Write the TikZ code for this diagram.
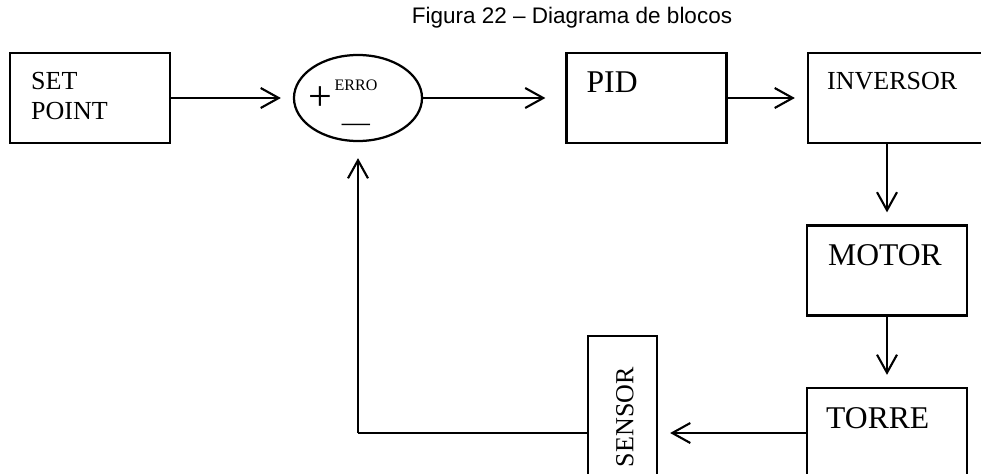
\documentclass[tikz,border=0pt]{standalone}
\usepackage{fontspec}
\setmainfont{Liberation Serif}
\newfontfamily\titlefont{Liberation Sans}
\usetikzlibrary{positioning,arrows.meta,shapes.geometric}

\tikzset{
  blk/.style={draw, line width=1.6pt, minimum width=4cm, minimum height=2.25cm, inner sep=0pt},
  txt/.style={inner sep=0pt, font=\fontsize{18.5}{21.3}\selectfont, align=left},
  bigtxt/.style={inner sep=0pt, font=\fontsize{22.5}{27}\selectfont},
  flow/.style={line width=1.5pt, -{Straight Barb[length=4.5mm,width=5mm,line width=1.5pt]}, shorten >=0.3cm}
}

\begin{document}
\begin{tikzpicture}[x=0.025cm, y=-0.025cm]
  \useasboundingbox (0,0) rectangle (981,474);

  % title
  \node[font=\titlefont\fontsize{16}{19}\selectfont, inner sep=0pt] (title) at (572,18) {Figura 22 – Diagrama de blocos};

  % blocks
  \node[blk] (sp) at (90,98) {};
  \node[draw, ellipse, line width=1.6pt, minimum width=3.2cm, minimum height=2.15cm, inner sep=0pt] (sum) at (358,98) {};
  \node[blk] (pid) at (646.5,98) {};
  \node[blk, minimum width=4.6cm] (inv) at (900,98) {};
  \node[blk] (mot) at (887,270.5) {};
  \node[blk] (tor) at (887,433) {};
  \node[blk, minimum width=1.725cm, minimum height=3.6cm] (sen) at (622.5,408) {};

  % texts
  \node[txt, below right=0.5cm and 0.55cm of sp.north west] (sptxt) {SET\\POINT};
  \node[bigtxt, below right=0.5cm and 0.525cm of pid.north west] (pidtxt) {PID};
  \node[txt, below right=0.5cm and 0.5cm of inv.north west] (invtxt) {INVERSOR};
  \node[bigtxt, below right=0.5cm and 0.55cm of mot.north west] (mottxt) {MOTOR};
  \node[bigtxt, below right=0.5cm and 0.5cm of tor.north west] (tortxt) {TORRE};
  \node[txt, rotate=90, anchor=east] (sentxt) at (625,367) {SENSOR};

  % signs of the sum
  \node[inner sep=0pt, font=\fontsize{11.4}{12}\selectfont] (erro) at (356,85) {ERRO};
  \node[inner sep=0pt, font=\fontsize{30}{30}\selectfont] (plus) at (320,98.5) {+};
  \node[inner sep=0pt, font=\fontsize{20}{20}\selectfont] (minus) at (356,128) {—};

  % connections
  \draw[flow] (sp) -- (sum);
  \draw[flow, shorten >=0.5cm] (sum) -- (pid);
  \draw[flow] (pid) -- (inv);
  \draw[flow] (mot.north |- inv.south) -- (mot);
  \draw[flow] (mot) -- (tor);
  \draw[flow] (tor.west) -- (sen.east |- tor.west);

  % feedback
  \coordinate (fb) at (sum.south |- tor.west);
  \draw[line width=0.8pt] (sen.west |- tor.west) -- (fb);
  \draw[flow, shorten >=0.4cm] (fb) -- (sum.south);
\end{tikzpicture}
\end{document}
